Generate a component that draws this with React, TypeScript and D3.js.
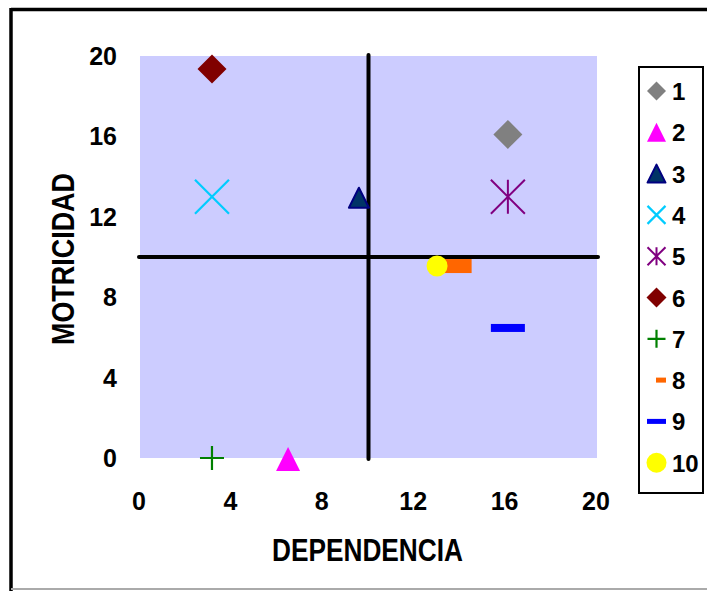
import React from "react";
import * as d3 from "d3";

const labels = ["1", "2", "3", "4", "5", "6", "7", "8", "9", "10"];
const dependencia = [16.1, 6.48, 9.58, 3.15, 16.1, 3.15, 3.15, 13.9, 16.1, 13.0];
const motricidad = [16.1, 0, 13.0, 13.0, 13.0, 19.35, 0, 9.55, 6.47, 9.55];
const xTicks = [0, 4, 8, 12, 16, 20];
const yTicks = [0, 4, 8, 12, 16, 20];

const W = 707;
const H = 591;
const FONT = "'Liberation Sans', Arial, sans-serif";

type Style = { kind: string; fill: string; stroke: string; size: number; lsize: number };
const styles: Style[] = [
  { kind: "diamond", fill: "#808080", stroke: "#808080", size: 14.5, lsize: 9.5 },
  { kind: "triangle", fill: "#FF00FF", stroke: "#FF00FF", size: 12, lsize: 9.5 },
  { kind: "triangle", fill: "#003366", stroke: "#000080", size: 10, lsize: 9 },
  { kind: "x", fill: "none", stroke: "#00CCFF", size: 17, lsize: 9 },
  { kind: "star", fill: "none", stroke: "#800080", size: 17, lsize: 9 },
  { kind: "diamond", fill: "#800000", stroke: "#800000", size: 14.5, lsize: 10 },
  { kind: "plus", fill: "none", stroke: "#008000", size: 12, lsize: 9 },
  { kind: "dash", fill: "#FF6600", stroke: "none", size: 14, lsize: 5 },
  { kind: "dash", fill: "#0000FF", stroke: "none", size: 17, lsize: 9.5 },
  { kind: "circle", fill: "#FFFF00", stroke: "none", size: 10.5, lsize: 10 },
];

function Marker({ s, cx, cy, r, dashH }: { s: Style; cx: number; cy: number; r: number; dashH: number }) {
  switch (s.kind) {
    case "diamond":
      return <path d={`M${cx},${cy - r}L${cx + r},${cy}L${cx},${cy + r}L${cx - r},${cy}Z`} fill={s.fill} />;
    case "triangle":
      return (
        <path
          d={`M${cx},${cy - r}L${cx + r},${cy + r}L${cx - r},${cy + r}Z`}
          fill={s.fill}
          stroke={s.stroke}
          strokeWidth={s.stroke === s.fill ? 0 : 2}
          strokeLinejoin="round"
        />
      );
    case "x":
      return (
        <path d={`M${cx - r},${cy - r}L${cx + r},${cy + r}M${cx - r},${cy + r}L${cx + r},${cy - r}`} stroke={s.stroke} strokeWidth={2.2} />
      );
    case "star":
      return (
        <path
          d={`M${cx - r},${cy - r}L${cx + r},${cy + r}M${cx - r},${cy + r}L${cx + r},${cy - r}M${cx},${cy - r}L${cx},${cy + r}`}
          stroke={s.stroke}
          strokeWidth={2}
        />
      );
    case "plus":
      return <path d={`M${cx - r},${cy}L${cx + r},${cy}M${cx},${cy - r}L${cx},${cy + r}`} stroke={s.stroke} strokeWidth={2.2} />;
    case "dash":
      return <rect x={cx - r} y={cy - dashH / 2} width={2 * r} height={dashH} fill={s.fill} />;
    case "circle":
      return <circle cx={cx} cy={cy} r={r} fill={s.fill} />;
    default:
      return null;
  }
}

export default function App() {
  const x = d3.scaleLinear().domain([0, 20]).range([140, 597]);
  const y = d3.scaleLinear().domain([0, 20]).range([458, 56]);

  const legendX = 639;
  const legendY = 67;
  const legendStep = 41.3;
  const legendFirst = 91;

  return (
    <svg width={W} height={H} style={{ position: "absolute", left: 0, top: 0, background: "#fff" }}>
      {/* outer frame */}
      <line x1={11} y1={9.5} x2={W} y2={9.5} stroke="#000" strokeWidth={3.5} />
      <line x1={11} y1={8} x2={11} y2={H} stroke="#000" strokeWidth={3.5} />
      <line x1={11} y1={589} x2={W} y2={589} stroke="#aaa" strokeWidth={2} />

      {/* plot area */}
      <rect x={x(0)} y={y(20)} width={x(20) - x(0)} height={y(0) - y(20)} fill="#CCCCFF" />

      {/* quadrant lines */}
      <line x1={x(10)} y1={y(20) - 1} x2={x(10)} y2={y(0) + 1} stroke="#000" strokeWidth={4} strokeLinecap="round" />
      <line x1={x(0) - 1} y1={y(10)} x2={x(20) + 1} y2={y(10)} stroke="#000" strokeWidth={4} strokeLinecap="round" />

      {/* tick labels */}
      {xTicks.map((t) => (
        <text key={"x" + t} x={x(t) - 1} y={510} textAnchor="middle" fontFamily={FONT} fontWeight="bold" fontSize={25}>
          {t}
        </text>
      ))}
      {yTicks.map((t) => (
        <text key={"y" + t} x={117} y={y(t) + 9} textAnchor="end" fontFamily={FONT} fontWeight="bold" fontSize={25}>
          {t}
        </text>
      ))}

      {/* axis titles */}
      <text
        x={367.5}
        y={561}
        textAnchor="middle"
        fontFamily={FONT}
        fontWeight="bold"
        fontSize={31}
        textLength={191}
        lengthAdjust="spacingAndGlyphs"
      >
        DEPENDENCIA
      </text>
      <text
        transform="translate(74,259) rotate(-90)"
        textAnchor="middle"
        fontFamily={FONT}
        fontWeight="bold"
        fontSize={31}
        textLength={172}
        lengthAdjust="spacingAndGlyphs"
      >
        MOTRICIDAD
      </text>

      {/* markers */}
      {labels.map((l, i) => (
        <Marker
          key={"m" + l}
          s={styles[i]}
          cx={x(dependencia[i])}
          cy={y(motricidad[i]) + (styles[i].kind === "triangle" ? 1 : 0)}
          r={styles[i].size}
          dashH={styles[i].kind === "dash" && i === 7 ? 14 : 8}
        />
      ))}

      {/* legend */}
      <rect x={legendX} y={legendY} width={64} height={426} fill="#fff" stroke="#000" strokeWidth={2} />
      {labels.map((l, i) => {
        const cy = legendFirst + i * legendStep;
        const s = styles[i];
        return (
          <g key={"l" + l}>
            <Marker s={s} cx={s.kind === "dash" && i === 7 ? 661 : 656.5} cy={cy} r={s.lsize} dashH={i === 7 ? 5 : 5} />
            <text x={672} y={cy + 9} fontFamily={FONT} fontWeight="bold" fontSize={24}>
              {l}
            </text>
          </g>
        );
      })}
    </svg>
  );
}
